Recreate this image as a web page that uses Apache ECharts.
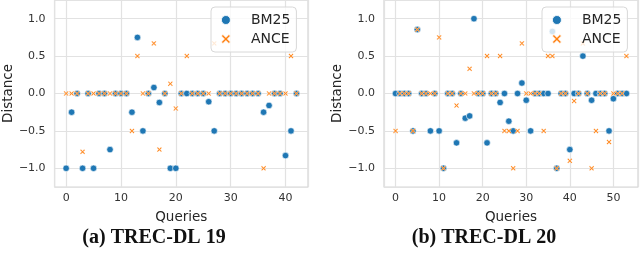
<!DOCTYPE html>
<html>
<head>
<meta charset="utf-8">
<script src="https://cdn.jsdelivr.net/npm/echarts@6/dist/echarts.min.js"></script>
<style>html,body{margin:0;padding:0;background:#fff;}#c{width:640px;height:257px;}</style>
</head>
<body>
<div id="c"></div>
<script>
// TREC-DL 19 (43 queries)
const bm25_dl19 = [-1, -0.25, 0, -1, 0, -1, 0, 0, -0.75, 0,
  0, 0, -0.25, 0.75, -0.5, 0, 0.08, -0.12, 0, -1,
  -1, 0, 0, 0, 0, 0, -0.11, -0.5, 0, 0,
  0, 0, 0, 0, 0, 0, -0.25, -0.16, 0, 0,
  -0.83, -0.5, 0];
const ance_dl19 = [0, 0, 0, -0.78, 0, 0, 0, 0, 0, 0,
  0, 0, -0.5, 0.5, 0, 0, 0.67, -0.75, 0, 0.13,
  -0.2, 0, 0.5, 0, 0, 0, 0, 0.67, 0, 0,
  0, 0, 0, 0, 0, 0, -1, 0, 0, 0,
  0, 0.5, 0];
// TREC-DL 20 (54 queries)
const bm25_dl20 = [0, 0, 0, 0, -0.5, 0.855, 0, 0, -0.5, 0,
  -0.5, -1, 0, 0, -0.66, 0, -0.33, -0.3, 1.0, 0,
  0, -0.66, 0, 0, -0.12, 0, -0.37, -0.5, 0, 0.14,
  -0.09, -0.5, 0, 0, 0, 0, 0.83, -1, 0, 0,
  -0.75, 0, 0, 0.5, 0, -0.09, 0, 0, 0, -0.5,
  -0.07, 0, 0, 0];
const ance_dl20 = [-0.5, 0, 0, 0, -0.5, 0.855, 0, 0, 0, 0,
  0.75, -1, 0, 0, -0.16, 0, 0, 0.33, 0, 0,
  0, 0.5, 0, 0, 0.5, -0.5, -0.5, -1, -0.5, 0.67,
  0, 0, 0, 0, -0.5, 0.5, 0.5, -1, 0, 0,
  -0.9, -0.1, 0, 0.67, 0, -1, -0.5, 0, 0, -0.65,
  0, 0, 0, 0.5];
const seriesNames = ['BM25', 'ANCE'];
const subtitles = ['(a) TREC-DL 19', '(b) TREC-DL 20'];
const xLimits = [[-2.1, 44.1], [-2.65, 55.65]];
const yLimits = [-1.25, 1.25];

const BLUE = '#1f77b4', ORANGE = '#ff7f0e';
const XPATH = 'path://M0,1 L1,0 L3,2 L5,0 L6,1 L4,3 L6,5 L5,6 L3,4 L1,6 L0,5 L2,3 Z';
const toPairs = arr => arr.map((v, i) => [i, v]);
const fmtY = v => (v < 0 ? '\u2212' : '') + Math.abs(v).toFixed(1);

function xAx(i) {
  return {
    gridIndex: i, type: 'value', min: xLimits[i][0], max: xLimits[i][1],
    name: 'Queries', nameLocation: 'middle', nameGap: 23,
    nameTextStyle: {fontFamily: 'DejaVu Sans', fontSize: 13.5, color: '#262626'},
    axisLine: {show: false}, axisTick: {show: false},
    axisLabel: {fontFamily: 'DejaVu Sans', fontSize: 11, color: '#333', margin: 6,
      showMinLabel: false, showMaxLabel: false,
      formatter: v => (Math.abs(v - Math.round(v)) < 1e-9 && Math.round(v) % 10 === 0) ? String(Math.round(v)) : ''},
    splitLine: {show: true, lineStyle: {color: '#e2e2e2', width: 1.2}}
  };
}
function yAx(i) {
  return {
    gridIndex: i, type: 'value', min: yLimits[0], max: yLimits[1], splitNumber: 5,
    name: 'Distance', nameLocation: 'middle', nameGap: 39,
    nameTextStyle: {fontFamily: 'DejaVu Sans', fontSize: 13.5, color: '#262626'},
    axisLine: {show: false}, axisTick: {show: false},
    axisLabel: {fontFamily: 'DejaVu Sans', fontSize: 11, color: '#333', margin: 9,
      showMinLabel: false, showMaxLabel: false,
      formatter: v => (Math.abs(v * 2 - Math.round(v * 2)) < 1e-9) ? fmtY(v) : ''},
    splitLine: {show: true, lineStyle: {color: '#e2e2e2', width: 1.2}}
  };
}
function legendAt(left) {
  return {
    orient: 'vertical', left: left, top: 7,
    padding: [6, 6, 6, 10], itemGap: 5, itemWidth: 18, itemHeight: 9,
    borderColor: '#d8d8d8', borderWidth: 1, borderRadius: 4,
    backgroundColor: 'rgba(255,255,255,0.8)',
    textStyle: {fontFamily: 'DejaVu Sans', fontSize: 14, color: '#262626', padding: [0, 0, 0, 11], lineHeight: 14},
    data: [
      {name: seriesNames[0], icon: 'circle', itemStyle: {color: BLUE, borderColor: '#fff', borderWidth: 0.8}},
      {name: seriesNames[1], icon: XPATH, itemStyle: {color: ORANGE, borderColor: '#fff', borderWidth: 0.8}}
    ]
  };
}
function sc(name, data, i) {
  const isB = name === 'BM25';
  return {
    name: name, type: 'scatter', xAxisIndex: i, yAxisIndex: i, data: toPairs(data),
    symbol: isB ? 'circle' : XPATH, symbolSize: isB ? 6.5 : 5,
    itemStyle: {color: isB ? BLUE : ORANGE, borderColor: '#fff', borderWidth: isB ? 0.6 : 0.4, opacity: 1},
    z: isB ? 2 : 3, animation: false, emphasis: {disabled: true}
  };
}

const chart = echarts.init(document.getElementById('c'), null, {renderer: 'canvas'});
chart.setOption({
  animation: false,
  backgroundColor: '#fff',
  title: [
    {text: subtitles[0], left: 154, top: 228, textAlign: 'center', padding: 0,
      textStyle: {fontFamily: 'Liberation Serif', fontWeight: 'bold', fontSize: 20, color: '#111'}},
    {text: subtitles[1], left: 484, top: 228, textAlign: 'center', padding: 0,
      textStyle: {fontFamily: 'Liberation Serif', fontWeight: 'bold', fontSize: 20, color: '#111'}}
  ],
  grid: [
    {left: 54, top: 0, width: 254, height: 187, show: true, borderColor: '#d6d6d6', borderWidth: 1.2, containLabel: false},
    {left: 384, top: 0, width: 254, height: 187, show: true, borderColor: '#d6d6d6', borderWidth: 1.2, containLabel: false}
  ],
  xAxis: [xAx(0), xAx(1)],
  yAxis: [yAx(0), yAx(1)],
  legend: [legendAt(211), legendAt(542)],
  series: [
    sc('BM25', bm25_dl19, 0), sc('ANCE', ance_dl19, 0),
    sc('BM25', bm25_dl20, 1), sc('ANCE', ance_dl20, 1)
  ]
});
</script>
</body>
</html>
